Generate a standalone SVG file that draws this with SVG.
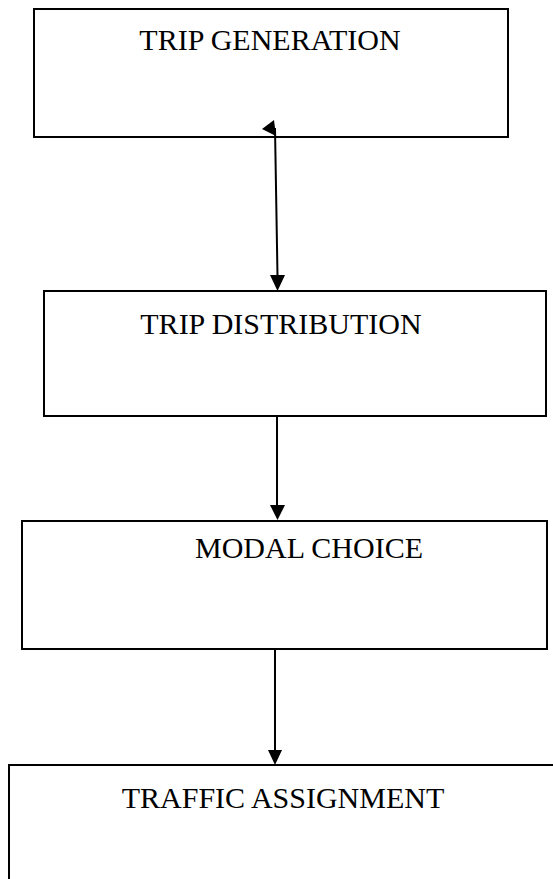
<svg xmlns="http://www.w3.org/2000/svg" width="553" height="879" viewBox="0 0 553 879">
<style>
.box{fill:#fff;stroke:#000;stroke-width:2}
.lbl{font-family:"Liberation Serif","Times New Roman",serif;font-size:30px;fill:#000;text-anchor:middle}
.con{stroke:#000;stroke-width:2;fill:none}
.head{fill:#000;stroke:none}
</style>
<rect width="553" height="879" fill="#fff"/>
<g id="node-trip-generation">
<rect class="box" x="34" y="9" width="474" height="128"/>
<text class="lbl" x="270" y="50">TRIP GENERATION</text>
</g>
<g id="node-trip-distribution">
<rect class="box" x="44" y="291" width="502" height="125"/>
<text class="lbl" x="281" y="334">TRIP DISTRIBUTION</text>
</g>
<g id="node-modal-choice">
<rect class="box" x="22" y="521" width="525" height="128"/>
<text class="lbl" x="309" y="558">MODAL CHOICE</text>
</g>
<g id="node-traffic-assignment">
<rect class="box" x="9" y="765" width="560" height="130"/>
<text class="lbl" x="283" y="808">TRAFFIC ASSIGNMENT</text>
</g>
<g id="connectors">
<line class="con" x1="275" y1="128" x2="277.5" y2="276"/>
<polygon class="head" points="274,120 262,129 276,136"/>
<polygon class="head" points="270,275 285,275 277.5,291"/>
<line class="con" x1="277" y1="417" x2="277" y2="506"/>
<polygon class="head" points="270,505 285,505 277.5,520"/>
<line class="con" x1="275" y1="650" x2="275" y2="751"/>
<polygon class="head" points="268,750 282,750 275,765"/>
</g>
</svg>
